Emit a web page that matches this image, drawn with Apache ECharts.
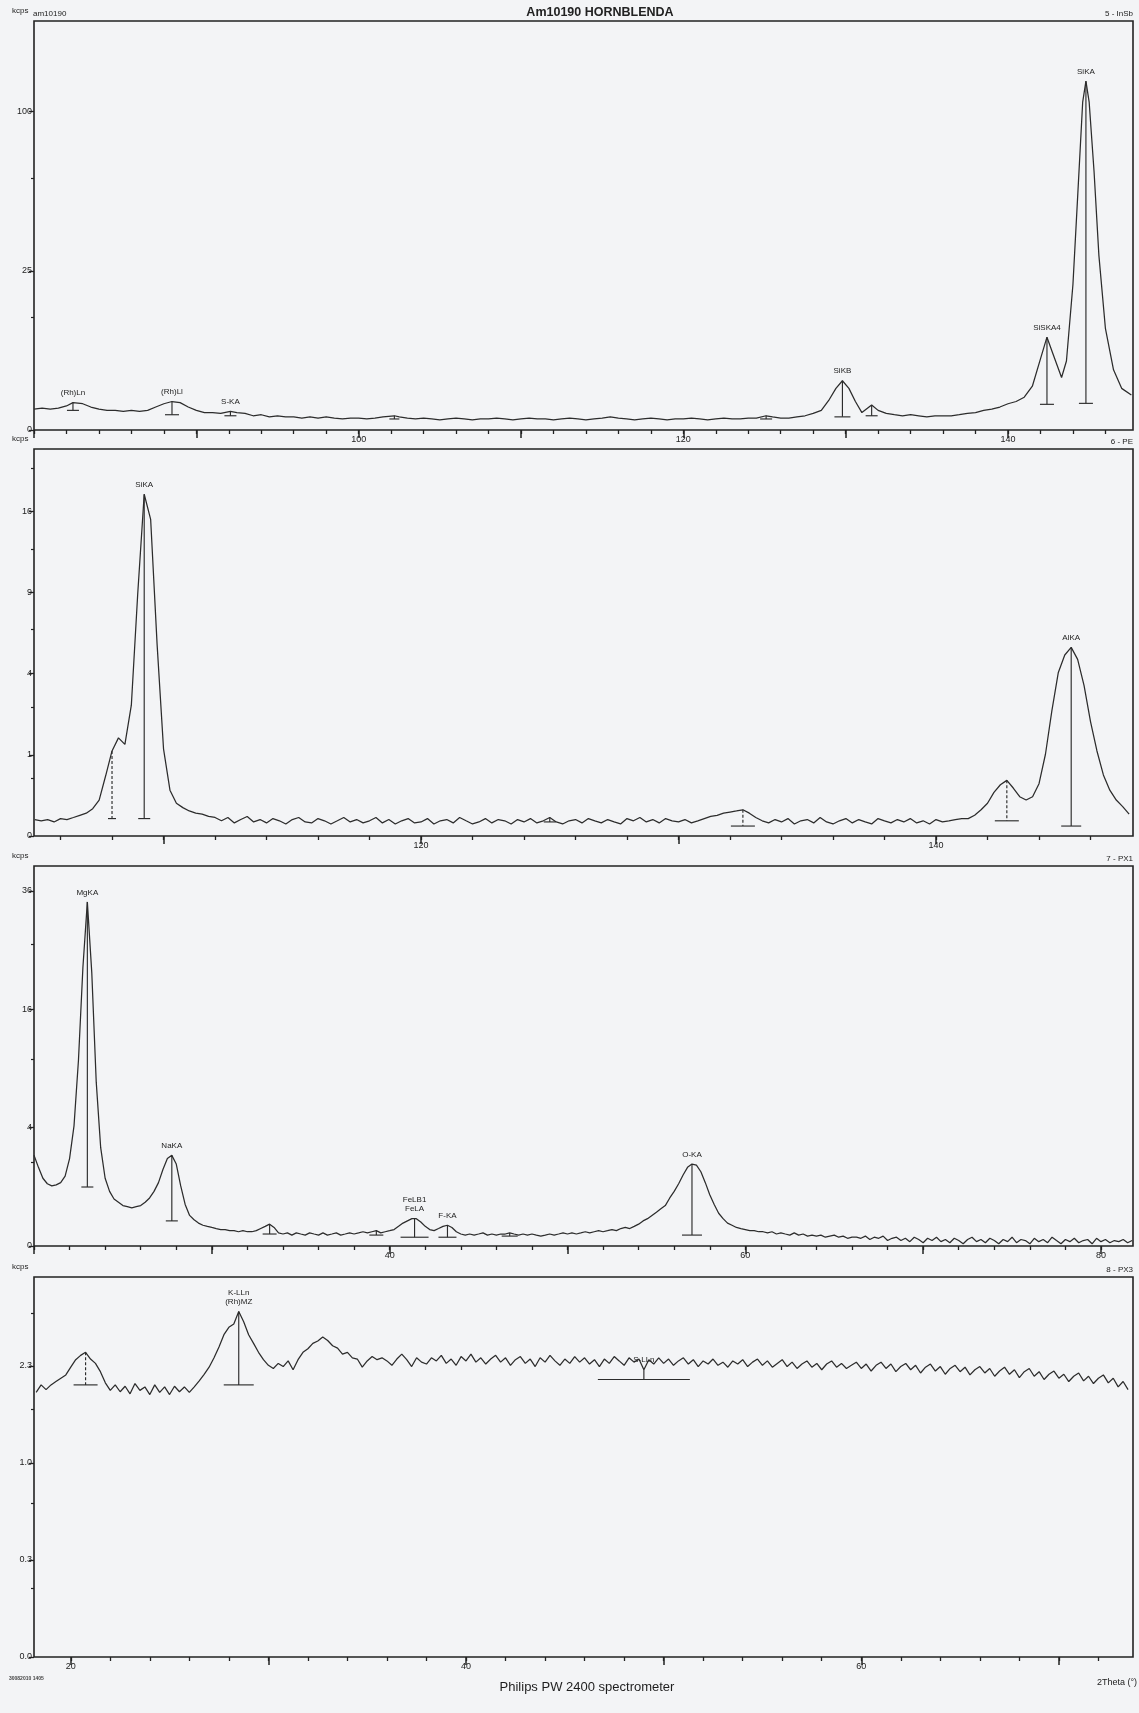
<!DOCTYPE html>
<html>
<head>
<meta charset="utf-8">
<title>Am10190 HORNBLENDA</title>
<script src="https://cdn.jsdelivr.net/npm/echarts@6/dist/echarts.min.js"></script>
<style>
  html, body { margin: 0; padding: 0; background: #f3f4f6; }
  #chart { width: 1139px; height: 1713px; }
</style>
</head>
<body>
<div id="chart"></div>
<script>
// ---- Scan 5 (InSb crystal): [2theta, kcps]
const p1Scan = [
  [80,0.43],[80.5,0.47],[81,0.43],[81.5,0.47],[82,0.57],[82.4,0.74],[83,0.68],[83.5,0.52],[84,0.43],[84.5,0.38],
  [85,0.38],[85.5,0.34],[86,0.38],[86.5,0.34],[87,0.38],[87.5,0.52],[88,0.68],[88.5,0.80],[89,0.74],[89.5,0.52],
  [90,0.38],[90.5,0.30],[91,0.30],[91.5,0.27],[92.1,0.34],[92.5,0.30],[93,0.27],[93.5,0.20],[94,0.23],[94.5,0.17],
  [95,0.20],[95.5,0.17],[96,0.17],[96.5,0.14],[97,0.17],[97.5,0.14],[98,0.17],[98.5,0.14],[99,0.12],[99.5,0.14],
  [100,0.14],[100.5,0.12],[101,0.14],[101.5,0.17],[102.2,0.20],[102.5,0.17],[103,0.14],[103.5,0.12],[104,0.14],[104.5,0.12],
  [105,0.10],[105.5,0.12],[106,0.14],[106.5,0.12],[107,0.10],[107.5,0.12],[108,0.12],[108.5,0.14],[109,0.12],[109.5,0.10],
  [110,0.12],[110.5,0.14],[111,0.12],[111.5,0.12],[112,0.10],[112.5,0.12],[113,0.14],[113.5,0.12],[114,0.10],[114.5,0.12],
  [115,0.14],[115.5,0.17],[116,0.14],[116.5,0.12],[117,0.10],[117.5,0.12],[118,0.14],[118.5,0.12],[119,0.10],[119.5,0.12],
  [120,0.12],[120.5,0.14],[121,0.12],[121.5,0.10],[122,0.12],[122.5,0.14],[123,0.12],[123.5,0.12],[124,0.14],[124.5,0.14],
  [125.1,0.20],[125.5,0.17],[126,0.14],[126.5,0.14],[127,0.17],[127.5,0.20],[128,0.27],[128.5,0.38],[129,0.93],[129.4,1.71],
  [129.8,2.39],[130.2,1.71],[130.6,0.80],[131,0.30],[131.6,0.62],[132,0.38],[132.5,0.27],[133,0.23],[133.5,0.20],[134,0.23],
  [134.5,0.20],[135,0.17],[135.5,0.20],[136,0.20],[136.5,0.20],[137,0.23],[137.5,0.27],[138,0.30],[138.5,0.38],[139,0.43],
  [139.5,0.52],[140,0.68],[140.5,0.80],[141,1.06],[141.5,1.89],[142,4.99],[142.4,8.5],[142.8,5.5],[143.3,2.72],[143.6,4.69],
  [144,20.9],[144.3,55],[144.6,106],[144.8,120],[145,106],[145.3,66],[145.6,30],[146,10.2],[146.5,3.57],[147,1.71],[147.6,1.21]
];

// ---- Scan 6 (PE crystal): kcps every 0.25 deg from 105
const p2Start = 105, p2Step = 0.25;
const p2Kcps = [
  0.041,0.035,0.041,0.030,0.046,0.041,0.052,0.065,0.079,0.113,0.196,0.545,1.096,1.459,1.271,2.594,8.95,17.7,15.2,5.58,
  1.153,0.318,0.162,0.122,0.095,0.079,0.072,0.058,0.052,
  0.035,0.052,0.026,0.041,0.058,0.030,0.041,0.026,0.046,0.035,
  0.022,0.041,0.052,0.030,0.026,0.046,0.035,0.022,0.035,0.052,
  0.030,0.041,0.026,0.035,0.052,0.026,0.041,0.022,0.035,0.046,
  0.026,0.030,0.046,0.022,0.035,0.041,0.026,0.052,0.035,0.022,
  0.030,0.046,0.026,0.041,0.035,0.022,0.041,0.030,0.046,0.026,
  0.035,0.052,0.030,0.022,0.035,0.041,0.026,0.046,0.035,0.026,
  0.041,0.030,0.022,0.046,0.035,0.052,0.030,0.041,0.026,0.046,
  0.035,0.030,0.041,0.026,0.035,0.046,0.058,
  0.065,0.079,0.087,0.095,0.104,0.079,0.052,0.035,
  0.026,0.041,0.030,0.046,0.022,0.035,0.041,0.026,0.052,0.030,
  0.022,0.035,0.046,0.026,0.041,0.030,0.022,0.046,0.035,0.026,
  0.041,0.030,0.046,0.026,0.035,0.022,0.041,0.030,0.035,0.041,0.046,
  0.046,0.065,0.104,0.162,0.288,0.398,0.469,0.349,0.234,0.196,0.234,0.415,1.013,2.383,4.054,4.965,5.392,4.728,3.431,1.986,
  1.096,0.565,0.318,0.196,0.131,0.072
];

// ---- Scan 7 (PX1 multilayer): kcps every 0.25 deg from 20
const p3Start = 20, p3Step = 0.25;
const p3Kcps = [
  2.345,1.765,1.309,1.106,1.030,1.068,1.145,1.394,2.179,4.119,9.838,22.14,33.78,21.28,7.659,2.757,1.309,0.851,0.629,0.545,
  0.466,0.441,0.417,0.441,0.466,0.545,0.659,0.851,1.145,1.668,2.179,2.345,1.915,1.030,0.492,0.267,0.196,0.150,0.123,0.110,
  0.098,0.087,0.077,0.077,0.067,0.067,0.058,0.067,0.058,0.058,0.067,0.087,0.110,0.136,0.098,0.049,0.041,0.049,0.034,0.049,
  0.041,0.034,0.049,0.041,0.034,0.049,0.034,0.041,0.049,0.034,0.041,0.049,0.041,0.049,0.058,0.049,0.058,0.067,0.049,0.058,
  0.067,0.077,0.110,0.150,0.180,0.213,0.213,0.165,0.110,0.077,0.067,0.087,0.110,0.123,0.098,0.058,0.041,0.034,0.041,0.034,
  0.041,0.049,0.034,0.041,0.034,0.041,0.041,0.049,0.041,0.034,0.041,0.034,0.041,0.034,0.028,0.034,0.041,0.034,0.041,0.049,
  0.041,0.049,0.041,0.049,0.058,0.049,0.058,0.067,0.058,0.067,0.077,0.067,0.087,0.098,0.087,0.110,0.136,0.180,0.213,0.267,
  0.327,0.394,0.466,0.659,0.851,1.106,1.438,1.765,1.915,1.864,1.574,1.145,0.752,0.492,0.306,0.213,0.150,0.123,0.098,0.087,
  0.077,0.067,0.067,0.058,0.058,
  0.049,0.058,0.041,0.049,0.041,0.034,0.049,0.034,0.041,0.028,
  0.034,0.028,0.034,0.022,0.028,0.034,0.022,0.028,0.017,0.022,
  0.022,0.017,0.028,0.012,0.022,0.017,0.028,0.0085,0.017,0.022,
  0.0085,0.017,0.0054,0.022,0.012,0.0031,0.017,0.0085,0.022,0.0054,
  0.012,0.0031,0.017,0.0085,0.0014,0.012,0.022,0.0054,0.012,0.0031,
  0.017,0.0085,0.0014,0.012,0.0054,0.022,0.0031,0.012,0.0085,0.0014,
  0.017,0.0054,0.012,0.0031,0.022,0.0085,0.0014,0.012,0.0054,0.017,
  0.0031,0.0085,0.012,0.0014,0.017,0.0054,0.012,0.0031,0.0085,0.0054,
  0.012,0.0031,0.0085
];

// ---- Scan 8 (PX3 multilayer): kcps every 0.25 deg from 18.25
const p4Start = 18.25, p4Step = 0.25;
const p4Kcps = [
  1.90,2.01,1.94,2.01,2.06,2.11,2.16,2.28,2.40,2.47,
  2.52,2.41,2.34,2.21,2.04,1.93,2.01,1.91,1.99,1.88,
  2.03,1.93,1.98,1.87,2.01,1.90,1.98,1.87,1.99,1.91,
  1.98,1.90,1.98,2.07,2.17,2.28,2.43,2.61,2.82,2.95,
  3.01,3.24,3.05,2.82,2.67,2.52,2.40,2.31,2.26,2.34,
  2.29,2.38,2.24,2.40,2.52,2.58,2.67,2.71,2.78,2.72,
  2.63,2.59,2.49,2.52,2.43,2.41,2.28,2.38,2.45,2.40,
  2.43,2.38,2.31,2.41,2.49,2.40,2.29,2.43,2.36,2.33,
  2.43,2.38,2.47,2.34,2.41,2.31,2.45,2.38,2.49,2.36,
  2.43,2.33,2.41,2.47,2.36,2.43,2.31,2.40,2.45,2.34,
  2.41,2.29,2.43,2.36,2.47,2.38,2.31,2.41,2.34,2.45,
  2.36,2.43,2.33,2.40,2.29,2.41,2.34,2.45,2.38,2.31,
  2.43,2.36,2.41,2.24,2.40,2.33,2.43,2.34,2.41,2.31,
  2.38,2.43,2.33,2.40,2.29,2.38,2.33,2.41,2.31,2.36,
  2.28,2.38,2.33,2.40,2.29,2.36,2.41,2.31,2.38,2.28,
  2.34,2.40,2.29,2.36,2.26,2.33,2.38,2.28,2.34,2.24,
  2.33,2.38,2.28,2.34,2.26,2.31,2.36,2.26,2.33,2.22,
  2.31,2.36,2.26,2.33,2.21,2.29,2.34,2.24,2.31,2.19,
  2.28,2.33,2.22,2.29,2.17,2.26,2.31,2.21,2.28,2.16,
  2.24,2.29,2.19,2.26,2.14,2.22,2.28,2.17,2.24,2.12,
  2.21,2.26,2.14,2.21,2.09,2.17,2.22,2.11,2.17,2.06,
  2.14,2.19,2.07,2.14,2.03,2.11,2.16,2.04,2.11,1.98,
  2.06,1.94
];

// ---- Peak identifications: line name, 2theta, peak top and background (kcps)
const p1PeakNames = ['(Rh)Ln', '(Rh)Ll', 'S-KA', '', '', 'SiKB', '', 'SiSKA4', 'SiKA'];
const p1PeakTheta = [82.4, 88.5, 92.1, 102.2, 125.1, 129.8, 131.6, 142.4, 144.8];
const p1PeakTop   = [0.74, 0.80, 0.34, 0.20, 0.20, 2.39, 0.62, 8.5, 120];
const p1PeakBase  = [0.38, 0.23, 0.20, 0.12, 0.12, 0.17, 0.20, 0.65, 0.70];

const p2PeakNames = ['', 'SiKA', '', '', '', 'AlKA'];
const p2PeakTheta = [108.0, 109.25, 125.0, 132.5, 142.75, 145.25];
const p2PeakTop   = [1.096, 17.7, 0.052, 0.104, 0.469, 5.392];
const p2PeakBase  = [0.046, 0.046, 0.030, 0.015, 0.035, 0.015];

const p3PeakNames = ['MgKA', 'NaKA', '', '', 'FeLB1\nFeLA', 'F-KA', '', 'O-KA'];
const p3PeakTheta = [23.0, 27.75, 33.25, 39.25, 41.4, 43.25, 46.75, 57.0];
const p3PeakTop   = [33.78, 2.345, 0.136, 0.067, 0.213, 0.123, 0.049, 1.915];
const p3PeakBase  = [0.993, 0.180, 0.041, 0.034, 0.022, 0.022, 0.028, 0.034];

const p4PeakNames = ['', 'K-LLn\n(Rh)MZ', 'S-LLn'];
const p4PeakTheta = [20.75, 28.5, 49.0];
const p4PeakTop   = [2.52, 3.24, 2.24];
const p4PeakBase  = [2.01, 2.01, 2.09];

// ---- Axis ticks (kcps on a square-root scale; 2theta in degrees)
const p1YTicks = [0, 25, 100];           const p1YMinor = [12.5, 62.5];
const p2YTicks = [0, 1, 4, 9, 16];       const p2YMinor = [0.5, 2.5, 6.5, 12.5, 20.5];
const p3YTicks = [0, 4, 16, 36];         const p3YMinor = [2, 10, 26];
const p4YTicks = [0, 0.2556, 1.0222, 2.3]; const p4YMinor = [0.128, 0.639, 1.661, 3.2];
const p1XLabels = [100, 120, 140];
const p2XLabels = [120, 140];
const p3XLabels = [40, 60, 80];
const p4XLabels = [20, 40, 60];
const scanNames = ['5 - InSb', '6 - PE', '7 - PX1', '8 - PX3'];

// ---------------------------------------------------------------
const FONT = '"Liberation Sans", Arial, sans-serif';
const INK = '#222222';
const LINE = '#2c2c2c';

const uniform = (start, step, arr) => arr.map((k, i) => [+(start + i * step).toFixed(3), k]);

const panels = [
  { scan: p1Scan, top: 21, bottom: 430, xMin: 80, xMax: 147.7, yMax: 165,
    yTicks: p1YTicks, yMinor: p1YMinor, xLabels: p1XLabels, fmt: v => String(Math.round(v)),
    peaks: { names: p1PeakNames, theta: p1PeakTheta, top: p1PeakTop, base: p1PeakBase },
    mark: { half: [6, 7, 6, 5, 6, 8, 6, 7, 7], dash: [0, 0, 0, 0, 0, 0, 0, 0, 0] } },
  { scan: uniform(p2Start, p2Step, p2Kcps), top: 449, bottom: 836, xMin: 104.97, xMax: 147.65, yMax: 22.7,
    yTicks: p2YTicks, yMinor: p2YMinor, xLabels: p2XLabels, fmt: v => String(Math.round(v)),
    peaks: { names: p2PeakNames, theta: p2PeakTheta, top: p2PeakTop, base: p2PeakBase },
    mark: { half: [4, 6, 6, 12, 12, 10], dash: [1, 0, 0, 1, 1, 0] } },
  { scan: uniform(p3Start, p3Step, p3Kcps), top: 866, bottom: 1246, xMin: 20, xMax: 81.8, yMax: 41.2,
    yTicks: p3YTicks, yMinor: p3YMinor, xLabels: p3XLabels, fmt: v => String(Math.round(v)),
    peaks: { names: p3PeakNames, theta: p3PeakTheta, top: p3PeakTop, base: p3PeakBase },
    mark: { half: [6, 6, 7, 7, 14, 9, 8, 10], dash: [0, 0, 0, 0, 0, 0, 0, 0] } },
  { scan: uniform(p4Start, p4Step, p4Kcps), top: 1277, bottom: 1657, xMin: 18.14, xMax: 73.75, yMax: 3.92,
    yTicks: p4YTicks, yMinor: p4YMinor, xLabels: p4XLabels, fmt: v => v.toFixed(1),
    peaks: { names: p4PeakNames, theta: p4PeakTheta, top: p4PeakTop, base: p4PeakBase },
    mark: { half: [12, 15, 46], dash: [1, 0, 0] } }
];

const tickRange = (min, max, step) => {
  const out = [];
  for (let t = Math.ceil(min / step - 1e-9) * step; t <= max + 1e-9; t += step) out.push(+t.toFixed(3));
  return out;
};

const grid = [], xAxis = [], yAxis = [], series = [], graphic = [];

panels.forEach((P, i) => {
  grid.push({ left: 34, right: 6, top: P.top, height: P.bottom - P.top,
              show: true, borderColor: INK, borderWidth: 1.6, backgroundColor: 'transparent' });

  const common = { gridIndex: i, type: 'value', position: 'bottom', offset: 0, min: P.xMin, max: P.xMax,
                   splitLine: { show: false }, axisLine: { show: false } };
  // short ticks every 2 deg, with the degree labels
  xAxis.push(Object.assign({}, common, {
    axisTick: { show: true, customValues: tickRange(P.xMin, P.xMax, 2), length: 4,
                lineStyle: { color: INK, width: 1.3 } },
    axisLabel: { customValues: P.xLabels, margin: 5, fontSize: 9, color: INK, fontFamily: FONT }
  }));
  // long ticks every 10 deg
  xAxis.push(Object.assign({}, common, {
    axisTick: { show: true, customValues: tickRange(P.xMin, P.xMax, 10), length: 8,
                lineStyle: { color: INK, width: 1.5 } },
    axisLabel: { show: false }
  }));

  const sMax = Math.sqrt(P.yMax);
  const ycommon = { gridIndex: i, type: 'value', position: 'left', offset: 0, min: 0, max: sMax,
                    splitLine: { show: false }, axisLine: { show: false } };
  yAxis.push(Object.assign({}, ycommon, {
    axisTick: { show: true, customValues: P.yTicks.map(Math.sqrt), length: 5,
                lineStyle: { color: INK, width: 1.3 } },
    axisLabel: { customValues: P.yTicks.map(Math.sqrt), formatter: s => P.fmt(s * s),
                 margin: 2, fontSize: 9, color: INK, fontFamily: FONT }
  }));
  yAxis.push(Object.assign({}, ycommon, {
    axisTick: { show: true, customValues: P.yMinor.filter(v => v < P.yMax).map(Math.sqrt), length: 3,
                lineStyle: { color: INK, width: 1.2 } },
    axisLabel: { show: false }
  }));

  // spectrum, plotted on the square-root intensity scale
  series.push({
    type: 'line', xAxisIndex: 2 * i, yAxisIndex: 2 * i, silent: true, z: 3,
    data: P.scan.map(([t, k]) => [t, Math.sqrt(k)]),
    showSymbol: false, symbol: 'none', animation: false,
    lineStyle: { color: LINE, width: 1.25 }
  });

  // peak markers: stem from peak top to background, with a base bar and the line name
  const pk = P.peaks;
  series.push({
    type: 'custom', xAxisIndex: 2 * i, yAxisIndex: 2 * i, silent: true, z: 4, animation: false,
    data: pk.theta.map((t, j) => [t, Math.sqrt(pk.top[j]), Math.sqrt(pk.base[j])]),
    renderItem: (params, api) => {
      const j = params.dataIndex;
      const p = api.coord([api.value(0), api.value(1)]);
      const b = api.coord([api.value(0), api.value(2)]);
      const half = P.mark.half[j];
      const dashed = P.mark.dash[j] === 1;
      const children = [
        { type: 'line', shape: { x1: p[0], y1: p[1], x2: b[0], y2: b[1] },
          style: { stroke: LINE, lineWidth: 1.15, lineDash: dashed ? [3, 2] : null } },
        { type: 'line', shape: { x1: b[0] - half, y1: b[1], x2: b[0] + half, y2: b[1] },
          style: { stroke: LINE, lineWidth: 1.15 } }
      ];
      const name = pk.names[j];
      if (name) {
        children.push({ type: 'text', x: p[0], y: p[1] - 5,
          style: { text: name, textAlign: 'center', textVerticalAlign: 'bottom',
                   font: '8px ' + FONT, fill: INK, lineHeight: 9 } });
      }
      return { type: 'group', children };
    }
  });

  // panel header: unit and crystal/channel name
  graphic.push({ type: 'text', left: 12, top: P.top - 14,
                 style: { text: 'kcps', font: '8px ' + FONT, fill: INK } });
  graphic.push({ type: 'text', right: 6, top: P.top - 11,
                 style: { text: scanNames[i], font: '8px ' + FONT, fill: INK } });
});

graphic.push({ type: 'text', left: 33, top: 10, style: { text: 'am10190', font: '8px ' + FONT, fill: INK } });
graphic.push({ type: 'text', x: 600, y: 19,
               style: { text: 'Am10190 HORNBLENDA', font: 'bold 12.5px ' + FONT, fill: INK,
                        textAlign: 'center', textVerticalAlign: 'bottom' } });
graphic.push({ type: 'text', x: 587, y: 1687,
               style: { text: 'Philips PW 2400 spectrometer', font: '13px ' + FONT, fill: '#1e1e1e',
                        textAlign: 'center', textVerticalAlign: 'middle' } });
graphic.push({ type: 'text', x: 1097, y: 1683,
               style: { text: '2Theta (°)', font: '9px ' + FONT, fill: INK, textVerticalAlign: 'middle' } });
graphic.push({ type: 'text', x: 9, y: 1679,
               style: { text: '30082010 1405', font: 'bold 5px ' + FONT, fill: '#444', textVerticalAlign: 'middle' } });

const chart = echarts.init(document.getElementById('chart'), null, { renderer: 'canvas' });
chart.setOption({
  backgroundColor: '#f3f4f6',
  animation: false,
  grid, xAxis, yAxis, series, graphic
});
</script>
</body>
</html>
